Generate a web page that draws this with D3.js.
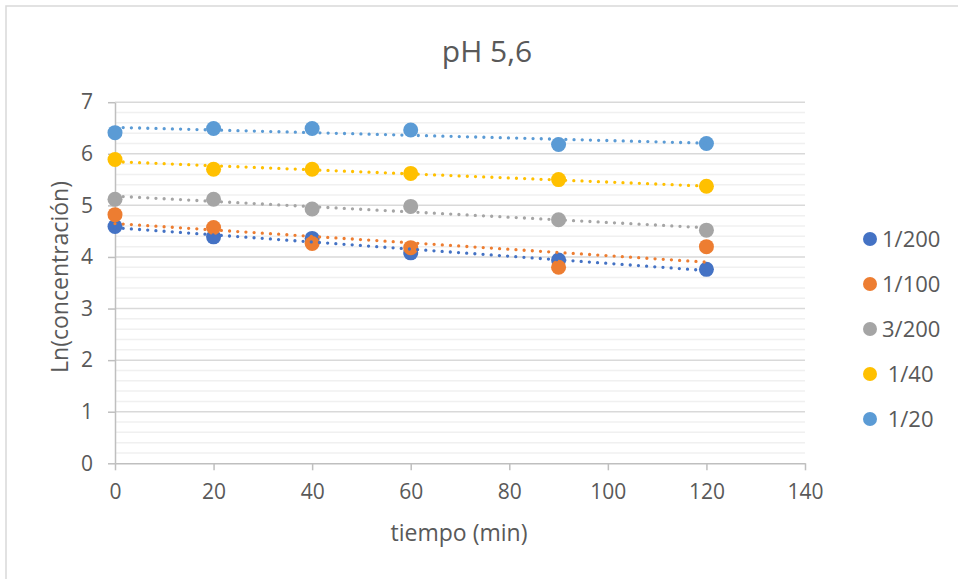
<!DOCTYPE html>
<html>
<head>
<meta charset="utf-8">
<script src="https://cdn.jsdelivr.net/npm/d3@7"></script>
<style>
  body { margin: 0; background: #fff; }
  svg text { font-family: "Open Sans", sans-serif; fill: #595959; }
</style>
</head>
<body>
<div id="main"></div>
<script>
// tiempo (min)
const tiempos = [0, 20, 40, 60, 90, 120];
// nombres de las series (leyenda)
const series = ["1/200", "1/100", "3/200", " 1/40", " 1/20"];
const colores = ["#4472C4", "#ED7D31", "#A5A5A5", "#FFC000", "#5B9BD5"];
// Ln(concentración) por serie
const s1_200 = [4.59, 4.39, 4.36, 4.08, 3.94, 3.76];
const s1_100 = [4.82, 4.57, 4.26, 4.18, 3.80, 4.20];
const s3_200 = [5.12, 5.12, 4.93, 4.98, 4.72, 4.52];
const s1_40 = [5.89, 5.70, 5.70, 5.62, 5.50, 5.37];
const s1_20 = [6.41, 6.49, 6.49, 6.46, 6.18, 6.20];
const valores = [s1_200, s1_100, s3_200, s1_40, s1_20];
const xTicks = [0, 20, 40, 60, 80, 100, 120, 140];
const yTicks = [0, 1, 2, 3, 4, 5, 6, 7];

const W = 958, H = 579;
const svg = d3.select("#main").append("svg").attr("width", W).attr("height", H);

// borde del gráfico
svg.append("rect").attr("x", 6).attr("y", 6).attr("width", W + 10).attr("height", H + 10)
  .attr("fill", "none").attr("stroke", "#d9d9d9").attr("stroke-width", 1.5);

const x = d3.scaleLinear().domain([0, 140]).range([115, 805]);
const y = d3.scaleLinear().domain([0, 7]).range([463.3, 102.2]);

// líneas de división secundarias
const minor = d3.range(0, 7.001, 0.2).filter(v => Math.abs(v - Math.round(v)) > 0.01);
svg.append("g").selectAll("line").data(minor).enter().append("line")
  .attr("x1", x(0)).attr("x2", x(140))
  .attr("y1", d => y(d)).attr("y2", d => y(d))
  .attr("stroke", "#f0f0f0").attr("stroke-width", 1.5);

// líneas de división principales
svg.append("g").selectAll("line").data(yTicks.slice(1)).enter().append("line")
  .attr("x1", x(0)).attr("x2", x(140))
  .attr("y1", d => y(d)).attr("y2", d => y(d))
  .attr("stroke", "#d9d9d9").attr("stroke-width", 1.5);

// ejes
const xAxis = svg.append("g").attr("transform", `translate(0,${y(0)})`)
  .call(d3.axisBottom(x).tickValues(xTicks).tickFormat(d3.format("d"))
    .tickSize(7).tickPadding(14).tickSizeOuter(0));
const yAxis = svg.append("g").attr("transform", `translate(${x(0)},0)`)
  .call(d3.axisLeft(y).tickValues(yTicks).tickFormat(d3.format("d"))
    .tickSize(7).tickPadding(15).tickSizeOuter(0));
[xAxis, yAxis].forEach(g => {
  g.select(".domain").attr("stroke", "#bfbfbf").attr("stroke-width", 1.5);
  g.selectAll(".tick line").attr("stroke", "#bfbfbf").attr("stroke-width", 1.5);
  g.selectAll(".tick text").style("font-size", "21px").attr("fill", "#595959");
});

// marcadores
valores.forEach((vals, i) => {
  svg.append("g").selectAll("circle").data(vals).enter().append("circle")
    .attr("cx", (d, j) => x(tiempos[j])).attr("cy", d => y(d))
    .attr("r", 7.5).attr("fill", colores[i]);
});

// líneas de tendencia (lineal, punteada)
valores.forEach((vals, i) => {
  const mx = d3.mean(tiempos), my = d3.mean(vals);
  const b = d3.sum(tiempos, (t, j) => (t - mx) * (vals[j] - my)) / d3.sum(tiempos, t => (t - mx) ** 2);
  const a = my - b * mx;
  const ext = d3.extent(tiempos);
  svg.append("line")
    .attr("x1", x(ext[0])).attr("y1", y(a + b * ext[0]))
    .attr("x2", x(ext[1])).attr("y2", y(a + b * ext[1]))
    .attr("stroke", colores[i]).attr("stroke-width", 3.3)
    .attr("stroke-linecap", "round").attr("stroke-dasharray", "0 8.2");
});

// títulos
svg.append("text").attr("x", 487).attr("y", 62).attr("text-anchor", "middle")
  .style("font-size", "30px").text("pH 5,6");
svg.append("text").attr("x", 459).attr("y", 541).attr("text-anchor", "middle")
  .style("font-size", "23px").text("tiempo (min)");
svg.append("text").attr("transform", "translate(68,277) rotate(-90)").attr("text-anchor", "middle")
  .style("font-size", "23px").text("Ln(concentración)");

// leyenda
const leg = svg.append("g").selectAll("g").data(series).enter().append("g")
  .attr("transform", (d, i) => `translate(870,${239 + i * 45})`);
leg.append("circle").attr("r", 7).attr("fill", (d, i) => colores[i]);
leg.append("text").attr("x", 12).attr("y", 7.5).style("font-size", "22px")
  .style("white-space", "pre").text(d => d);
</script>
</body>
</html>
